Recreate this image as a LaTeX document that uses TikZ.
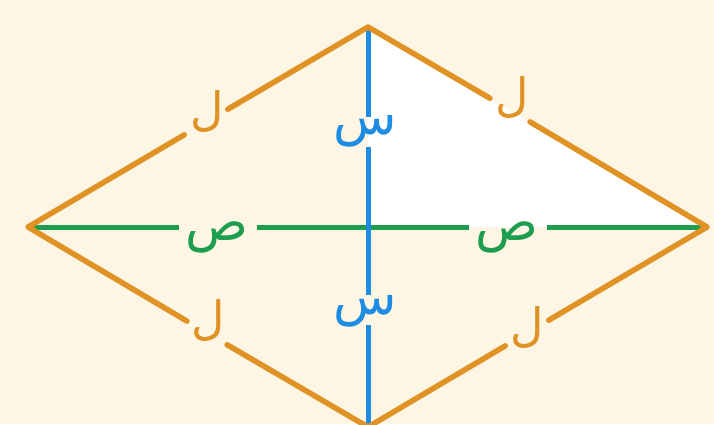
\documentclass[tikz,border=0pt]{standalone}
\usepackage{fontspec}
\newfontfamily\arabicfont[Script=Arabic]{DejaVu Sans}
\TeXXeTstate=1
\definecolor{bg}{RGB}{254,246,228}
\definecolor{edgeor}{RGB}{224,146,36}
\definecolor{diagbl}{RGB}{30,140,226}
\definecolor{diaggr}{RGB}{28,158,78}
\tikzset{
  gapnode/.style={circle,inner sep=0pt,minimum size=#1},
  txt/.style={inner sep=0pt,font=\arabicfont\fontsize{52}{52}\selectfont},
  lamtxt/.style={inner sep=0pt,text=edgeor,font=\arabicfont\fontsize{46}{46}\selectfont},
  edgeline/.style={draw=edgeor,line width=5.5pt,line cap=round,line join=round},
  blueline/.style={draw=diagbl,line width=5pt},
  greenline/.style={draw=diaggr,line width=5pt},
}
\begin{document}
\begin{tikzpicture}[x=1pt,y=-1pt]
\path[fill=bg] (0,0) rectangle (714,424);
\useasboundingbox (0,0) rectangle (714,424);
\coordinate (T) at (368,27);
\coordinate (L) at (28,227);
\coordinate (R) at (707,227);
\coordinate (B) at (368,427);
\coordinate (O) at (368,227);
\fill[white] (T) -- (R) -- (O) -- cycle;
% gaps
\node[gapnode=50pt] (g1) at (206,122) {};
\node[gapnode=46pt] (g2) at (510,110) {};
\node[gapnode=46pt] (g3) at (207,333) {};
\node[gapnode=50pt] (g4) at (527,333) {};
\node[gapnode=30pt] (s1) at (368,132) {};
\node[gapnode=30pt] (s2) at (368,310) {};
\node[gapnode=77pt] (p1) at (218,227) {};
\node[gapnode=77pt] (p2) at (508,227) {};
% diagonals
\path[greenline] (L) -- (p1) (p1) -- (p2) (p2) -- (R);
\path[blueline] (T) -- (s1) (s1) -- (s2) (s2) -- (B);
% edges
\path[edgeline] (T) -- (g1) (g1) -- (L) -- (g3) (g3) -- (B) -- (g4) (g4) -- (R) -- (g2) (g2) -- (T);
% labels
\node[lamtxt] (l1) at (207,112) {\beginR ل\endR};
\node[lamtxt] (l2) at (512,98) {\beginR ل\endR};
\node[lamtxt] (l3) at (208,321) {\beginR ل\endR};
\node[lamtxt] (l4) at (527,328) {\beginR ل\endR};
\node[txt,text=diagbl] (b1) at (365,131) {\beginR س\endR};
\node[txt,text=diagbl] (b2) at (365,311) {\beginR س\endR};
\node[txt,text=diaggr] (c1) at (217,237) {\beginR ص\endR};
\node[txt,text=diaggr] (c2) at (507,237) {\beginR ص\endR};
\end{tikzpicture}
\end{document}
